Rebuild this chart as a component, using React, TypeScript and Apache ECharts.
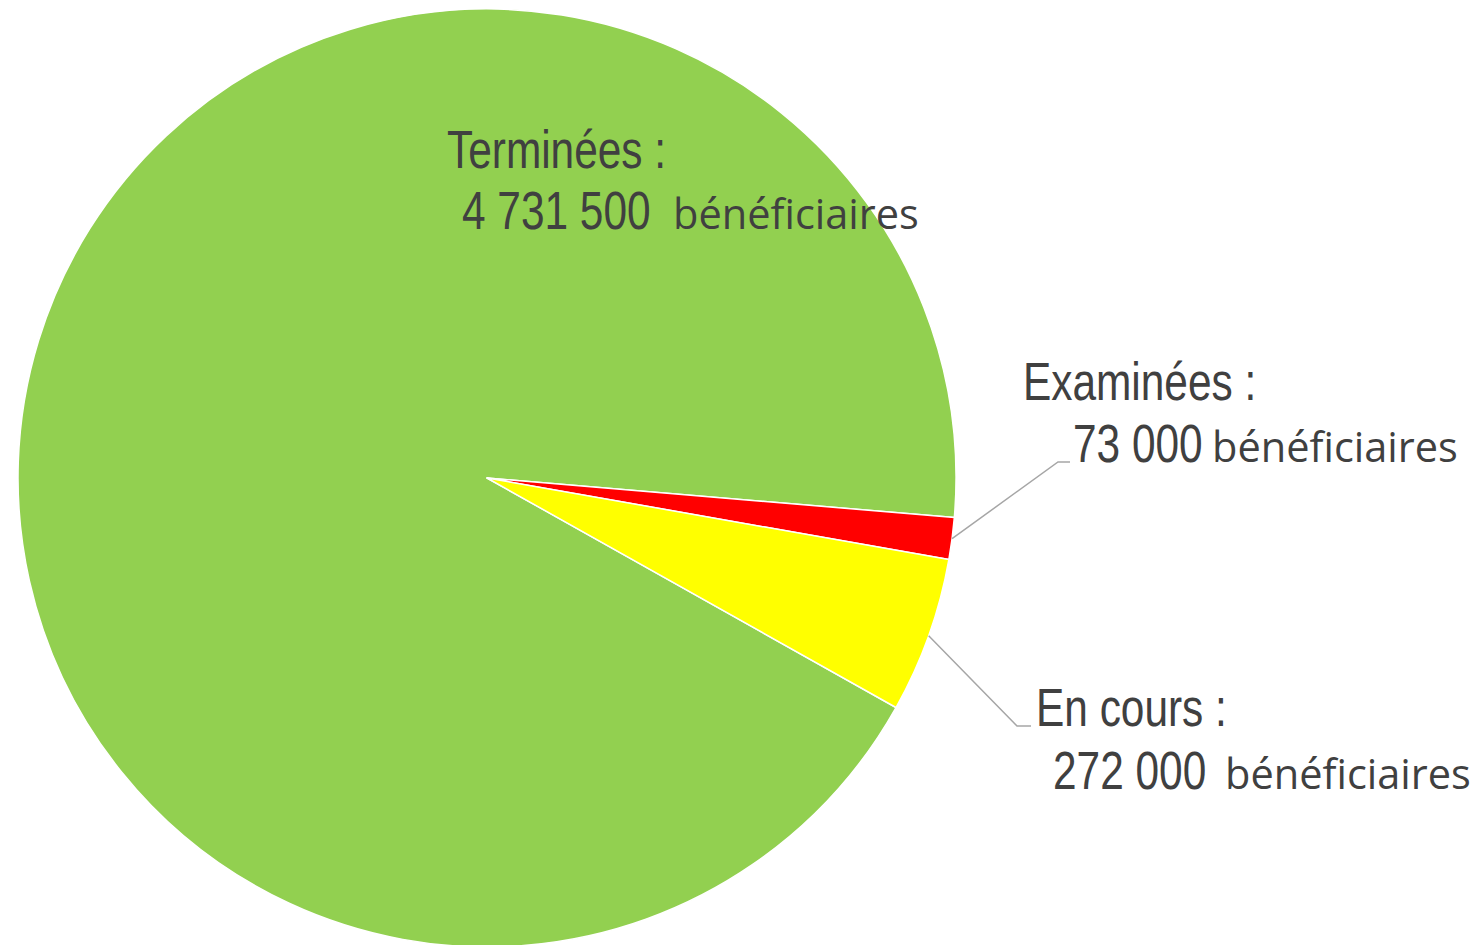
import React, { useEffect, useRef } from "react";
import * as echarts from "echarts";

const categories = ["Terminées", "Examinées", "En cours"];
const values = [4731500, 73000, 272000];
const colors = ["#92D050", "#FF0000", "#FFFF00"];
const unitLabel = "bénéficiaires";

// layout of annotations (baselines and left edges), not data
const CX = 487;
const CY = 478;
const R = 469;
const START_ANGLE = -29.3;
const labelLayout = [
  { tx: 447, ty: 169, nx: 462, ny: 230, ux: 673, bend: null, end: null },
  { tx: 1023, ty: 401, nx: 1073, ny: 463, ux: 1212, bend: [1058, 462], end: [1070, 462] },
  { tx: 1036, ty: 727, nx: 1053, ny: 790, ux: 1225, bend: [1017, 726], end: [1031, 726] },
];

const fmt = (v: number) => String(v).replace(/\B(?=(\d{3})+(?!\d))/g, " ");

const TEXT_COLOR = "#404040";
const NARROW_FONT = "'Liberation Sans', Arial, sans-serif";
const NARROW_SIZE = 53;
const NARROW_SCALE = 0.8;
const UNIT_FONT = "'Open Sans', sans-serif";
const UNIT_SIZE = 41.5;

export default function App() {
  const ref = useRef<HTMLDivElement>(null);
  useEffect(() => {
    document.body.style.margin = "0";
    const chart = echarts.init(ref.current!, null, { renderer: "svg" });
    const total = values.reduce((a, b) => a + b, 0);

    const graphics: any[] = [];
    let cum = 0;
    categories.forEach((name, i) => {
      const v = values[i];
      const mid = cum + v / 2;
      cum += v;
      const ang = ((START_ANGLE - (mid / total) * 360) * Math.PI) / 180;
      const edge = [CX + R * Math.cos(ang), CY - R * Math.sin(ang)];
      const lay = labelLayout[i];
      const narrowText = (text: string, x: number, baseline: number) => ({
        type: "text",
        x,
        y: baseline - 0.36 * NARROW_SIZE,
        scaleX: NARROW_SCALE,
        z: 100,
        silent: true,
        style: {
          text,
          fill: TEXT_COLOR,
          fontFamily: NARROW_FONT,
          fontSize: NARROW_SIZE,
          textAlign: "left",
          textVerticalAlign: "middle",
          align: "left",
          verticalAlign: "middle",
        },
      });
      graphics.push(narrowText(`${name} :`, lay.tx, lay.ty));
      graphics.push(narrowText(fmt(v), lay.nx, lay.ny));
      graphics.push({
        type: "text",
        x: lay.ux,
        y: lay.ny - 0.42 * UNIT_SIZE,
        z: 100,
        silent: true,
        style: {
          text: unitLabel,
          fill: TEXT_COLOR,
          fontFamily: UNIT_FONT,
          fontSize: UNIT_SIZE,
          textAlign: "left",
          textVerticalAlign: "middle",
          align: "left",
          verticalAlign: "middle",
        },
      });
      if (lay.bend && lay.end) {
        graphics.push({
          type: "polyline",
          z: 100,
          silent: true,
          shape: { points: [edge, lay.bend, lay.end] },
          style: { stroke: "#A6A6A6", lineWidth: 1.5, fill: null },
        });
      }
    });

    chart.setOption({
      animation: false,
      backgroundColor: "#ffffff",
      series: [
        {
          type: "pie",
          center: [CX, CY],
          radius: R,
          startAngle: START_ANGLE,
          clockwise: true,
          avoidLabelOverlap: false,
          itemStyle: { borderColor: "#ffffff", borderWidth: 1.5 },
          label: { show: false },
          labelLine: { show: false },
          emphasis: { disabled: true },
          data: categories.map((name, i) => ({
            name,
            value: values[i],
            itemStyle: { color: colors[i] },
          })),
        },
      ],
      graphic: { elements: graphics },
    });
    return () => chart.dispose();
  }, []);
  return <div ref={ref} style={{ width: 1479, height: 945 }} />;
}
